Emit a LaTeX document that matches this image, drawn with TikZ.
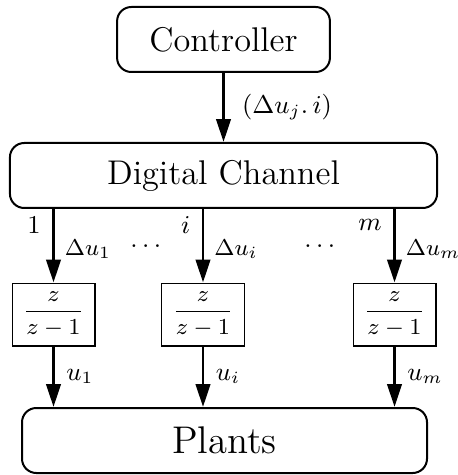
\documentclass[tikz,border=0pt]{standalone}
\usepackage{amsmath}
\usepackage{amssymb}
\usepackage{tikz}
\usetikzlibrary{arrows.meta}

\begin{document}
\begin{tikzpicture}[x=0.35pt, y=-0.35pt,
  block/.style={draw, line width=0.7pt, rounded corners=5pt, minimum height=22.75pt, font=\large},
  tf/.style={draw, line width=0.4pt, minimum width=29pt, minimum height=22pt, inner sep=0pt, font=\footnotesize},
  sig/.style={-{Triangle[length=8pt, width=5pt]}, line width=1pt},
  lab/.style={font=\small, inner sep=0pt}]
\useasboundingbox (0,0) rectangle (457,475);
\node[block, minimum width=74.5pt] (ctrl) at (223.5,39.5) {Controller};
\node[block, minimum width=149.5pt] (dc) at (223.5,175.5) {Digital Channel};
\node[block, minimum width=141.75pt, font=\fontsize{13.5}{16}\selectfont] (plants) at (224.5,440.5) {Plants};
\draw[sig] (ctrl) -- (dc) node[lab, midway, right=6pt] (req) {$(\Delta u_j.\, i)$};
\foreach \k/\x in {1/53.5, i/203, m/394.5} {
  \node[tf] (f\k) at (\x,314.5) {$\displaystyle\frac{z}{z-1}$};
  \draw[sig] (f\k |- dc.south) -- (f\k.north)
    node[lab, pos=0.22, left=4pt] (n\k) {$\k$}
    node[lab, font=\footnotesize, pos=0.55, right=3.5pt] (d\k) {$\Delta u_\k$};
  \draw[sig] (f\k.south) -- (f\k |- plants.north) node[lab, midway, right=4pt] (u\k) {$u_\k$};
}
\node[lab] (dotsa) at (148,246) {$\dots$};
\node[lab] (dotsb) at (322,246) {$\dots$};
\end{tikzpicture}
\end{document}
